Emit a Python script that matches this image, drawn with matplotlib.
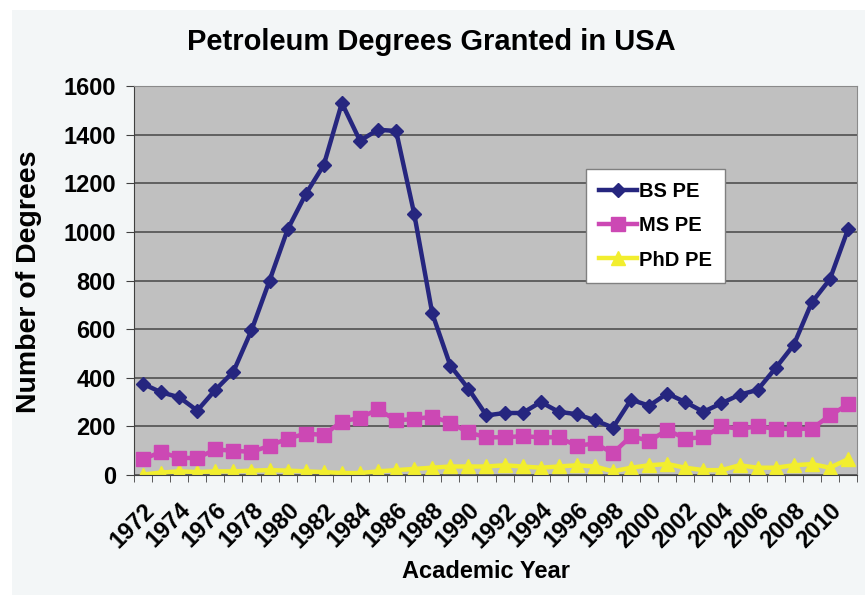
import numpy as np
import matplotlib
matplotlib.use('Agg')
import matplotlib.pyplot as plt
from matplotlib.patches import Rectangle

years = list(range(1972, 2012))
bs_pe = [375, 340, 320, 265, 350, 425, 595, 800, 1010, 1155,
         1275, 1530, 1375, 1420, 1415, 1075, 665, 450, 355, 245,
         255, 255, 300, 260, 250, 225, 195, 310, 285, 335,
         300, 260, 295, 330, 350, 440, 535, 710, 805, 1010]
ms_pe = [65, 95, 70, 70, 105, 100, 95, 120, 150, 170,
         165, 220, 235, 270, 225, 230, 240, 215, 175, 155,
         155, 160, 155, 155, 120, 130, 90, 160, 140, 185,
         150, 155, 200, 190, 200, 190, 190, 190, 245, 290]
phd_pe = [2, 10, 15, 12, 15, 15, 18, 20, 18, 15,
          12, 8, 8, 15, 20, 25, 30, 35, 35, 35,
          40, 35, 30, 35, 40, 35, 15, 30, 40, 45,
          30, 20, 20, 40, 30, 30, 40, 45, 30, 65]

plt.rcParams['font.family'] = ['Liberation Sans', 'DejaVu Sans']
plt.rcParams['font.weight'] = 'bold'

fig = plt.figure(figsize=(8.65, 5.95), dpi=100, facecolor='white')
fig.patches.append(Rectangle((12 / 865, 0), 1, 1 - 10 / 595, transform=fig.transFigure,
                             facecolor='#f3f6f7', edgecolor='none', zorder=-10))

ax = fig.add_axes([134 / 865, 1 - 475 / 595, (857 - 134) / 865, (475 - 86) / 595])
ax.set_facecolor('#c0c0c0')

x = np.arange(len(years))
ax.plot(x, bs_pe, color='#26267f', lw=3.2, marker='D', ms=7, label='BS PE', zorder=4)
ax.plot(x, ms_pe, color='#cc48b4', lw=3.2, marker='s', ms=9.5, label='MS PE', zorder=3)
ax.plot(x, phd_pe, color='#f2ee2e', lw=3.2, marker='^', ms=9.5, label='PhD PE', zorder=2)

ax.set_xlim(-0.5, len(years) - 0.5)
ax.set_ylim(0, 1600)
ax.set_yticks(range(0, 1601, 200))
ax.grid(axis='y', color='#505050', lw=1.2)
ax.set_axisbelow(True)

# labels on every other year, tick marks on category boundaries
ax.set_xticks(x[::2])
ax.set_xticklabels([str(y) for y in years[::2]], rotation=45, ha='right',
                   rotation_mode='anchor', fontsize=17, fontweight='bold')
ax.tick_params(axis='x', which='major', length=0, pad=17)
ax.set_xticks(np.arange(-0.5, len(years), 1), minor=True)
ax.tick_params(axis='x', which='minor', length=5, color='#404040', direction='out')
ax.tick_params(axis='y', length=6, color='#404040', labelsize=17, pad=7)
for lab in ax.get_yticklabels():
    lab.set_fontweight('bold')

for side in ['top', 'right']:
    ax.spines[side].set_color('#8a8a8a')
ax.spines['left'].set_color('#404040')
ax.spines['bottom'].set_color('#404040')

leg = ax.legend(loc='upper left', bbox_to_anchor=(0.611, 0.812), frameon=True,
                fancybox=False, framealpha=1, edgecolor='#808080',
                prop={'weight': 'bold', 'size': 14.5}, handlelength=1.9,
                handletextpad=0.1, labelspacing=0.75, borderpad=0.65)
leg.get_frame().set_linewidth(1)

fig.text(431 / 865, 1 - 42 / 595, 'Petroleum Degrees Granted in USA', ha='center', va='center',
         fontsize=21, fontweight='bold')
fig.text(486 / 865, 1 - 572 / 595, 'Academic Year', ha='center', va='center',
         fontsize=17, fontweight='bold')
fig.text(29 / 865, 1 - 282 / 595, 'Number of Degrees', ha='center', va='center',
         rotation=90, fontsize=20.5, fontweight='bold')

fig.savefig('out.png', dpi=100, facecolor=fig.get_facecolor())
